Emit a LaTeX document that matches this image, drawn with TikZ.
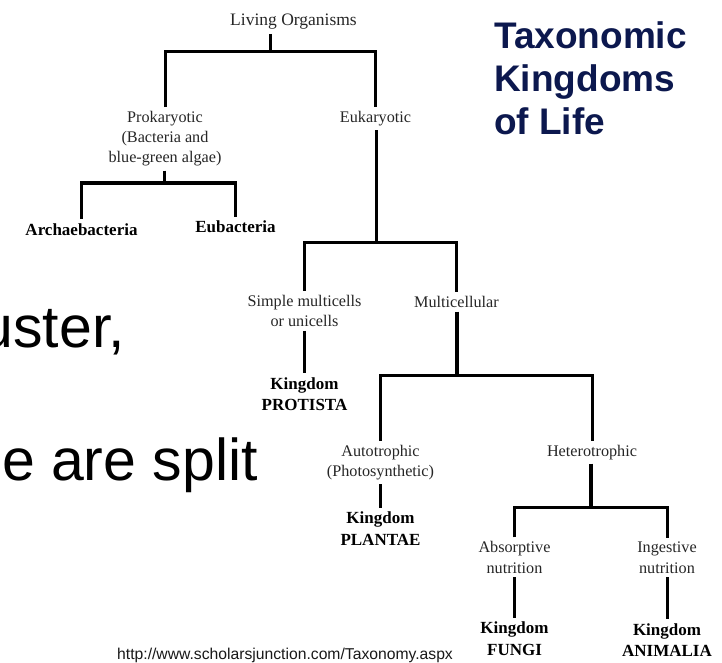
\documentclass[tikz,border=0pt]{standalone}
\usepackage{fontspec}
\setmainfont{Liberation Serif}
\newfontfamily\arialf{Liberation Sans}
\definecolor{navy}{RGB}{12,24,78}
\begin{document}
\begin{tikzpicture}[x=1pt,y=-1pt,
  lbl/.style={font=\fontsize{16.2}{20.2}\selectfont, text=black!85, align=center, inner xsep=2pt, inner ysep=4pt, anchor=base},
  kbox/.style={font=\fontsize{17}{21.5}\selectfont\bfseries, align=center, inner xsep=2pt, inner ysep=4pt, anchor=base},
  wire/.style={line width=3pt},
  thickwire/.style={line width=3.8pt},
  bigtxt/.style={font=\arialf\fontsize{59}{70}\selectfont, anchor=base east, inner sep=0pt}
  ]
\clip (0,0) rectangle (722,663);
\fill[white] (0,0) rectangle (722,663);

% background slide text (cut at the left edge, as in the slide)
\node[bigtxt] (bg1) at (125,347) {uster,};
\node[bigtxt] (bg2) at (258,480) {se are split};
\node[font=\arialf\fontsize{15.7}{18}\selectfont, anchor=base west, inner sep=0pt, text=black!90] (url) at (117,659.5) {http://www.scholarsjunction.com/Taxonomy.aspx};

% title (base anchor = last line)
\node[font=\arialf\bfseries\fontsize{37}{43.4}\selectfont, text=navy, align=left, anchor=base west, inner sep=0pt] (title) at (494,135) {Taxonomic\\Kingdoms\\of Life};

% tree nodes (base anchor = baseline of the last line)
\node[lbl, font=\fontsize{17.5}{21}\selectfont] (living) at (293.5,26) {Living Organisms};
\node[lbl] (prok) at (165,163) {Prokaryotic\\(Bacteria and\\blue-green algae)};
\node[lbl] (euk) at (375.5,122.7) {Eukaryotic};
\node[kbox] (archae) at (81.5,235) {Archaebacteria};
\node[kbox] (eubac) at (235.5,232.7) {Eubacteria};
\node[lbl] (simple) at (304.5,326.5) {Simple multicells\\or unicells};
\node[lbl] (multi) at (456.5,307.3) {Multicellular};
\node[kbox] (protista) at (304.5,410.7) {Kingdom\\PROTISTA};
\node[lbl] (auto) at (380.5,476.5) {Autotrophic\\(Photosynthetic)};
\node[lbl] (hetero) at (592,456) {Heterotrophic};
\node[kbox] (plantae) at (380.5,545) {Kingdom\\PLANTAE};
\node[lbl] (absorb) at (514.5,573) {Absorptive\\nutrition};
\node[lbl] (ingest) at (667,573) {Ingestive\\nutrition};
\node[kbox] (fungi) at (514.5,655) {Kingdom\\FUNGI};
\node[kbox] (animalia) at (667,656.5) {Kingdom\\ANIMALIA};

% junctions
\coordinate (j1) at (270,52);
\coordinate (j2) at (164,183);
\coordinate (j3) at (376,242);
\coordinate (j4) at (457,375);
\coordinate (j5) at (591,507);

% connectors
\draw[wire] (j1 |- living.south) -- (j1);
\draw[wire] (prok.north) |- (j1) -| (euk.north);
\draw[wire] (j2 |- prok.south) -- (j2);
\draw[wire] (archae.north) |- (j2);
\draw[thickwire] (j2) -| (eubac.north);
\draw[wire] (j3 |- euk.south) -- (j3);
\draw[wire] (simple.north) |- (j3) -| (multi.north);
\draw[wire] (simple.south) -- (protista.north);
\draw[thickwire] (j4 |- multi.south) -- (j4);
\draw[wire] (auto.north) |- (j4) -| (hetero.north);
\draw[wire] (auto.south) -- (plantae.north);
\draw[thickwire] (j5 |- hetero.south) -- (j5);
\draw[wire] (absorb.north) |- (j5) -| (ingest.north);
\draw[wire] (absorb.south) -- (fungi.north);
\draw[wire] (ingest.south) -- (animalia.north);
\end{tikzpicture}
\end{document}
